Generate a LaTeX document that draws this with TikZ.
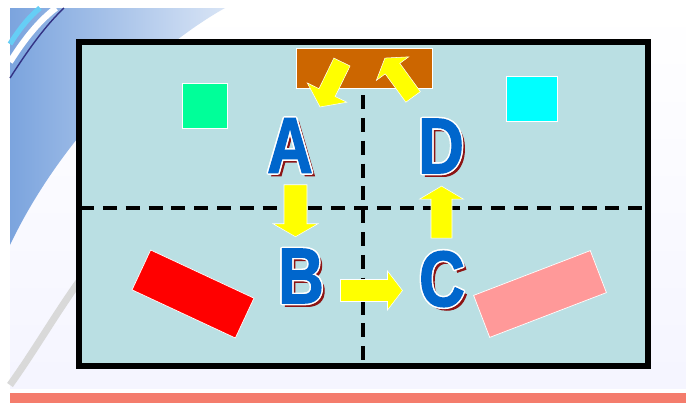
\documentclass[tikz,border=0pt]{standalone}
\usepackage{fontspec}
\newfontfamily\blockfont[FakeStretch=0.8, BoldFeatures={FakeBold=1.5}]{Liberation Sans}
\definecolor{boardteal}{RGB}{186, 223, 227}
\definecolor{swooshblue}{RGB}{100, 148, 216}
\definecolor{lettblue}{RGB}{0, 102, 204}
\definecolor{lettshadow}{RGB}{140, 20, 20}
\definecolor{brown1}{RGB}{204, 102, 0}
\definecolor{green1}{RGB}{0, 255, 153}
\definecolor{cyan1}{RGB}{0, 255, 255}
\definecolor{pink1}{RGB}{255, 153, 153}
\definecolor{salmon1}{RGB}{244, 124, 108}
\definecolor{arrowyellow}{RGB}{255, 255, 0}
\usetikzlibrary{calc}

% letter with white rim and dark red shadow: name, position, letter
\newcommand{\blockletter}[3]{%
  \node[letter, text=lettshadow, xshift=1.8pt, yshift=-1.8pt] at (#2) {#3};
  \foreach \dx/\dy in {0.9/0, -0.9/0, 0/0.9, 0/-0.9, 0.65/0.65, -0.65/0.65, 0.65/-0.65, -0.65/-0.65}
    \node[letter, text=white, xshift=\dx pt, yshift=\dy pt] at (#2) {#3};
  \node[letter, text=lettblue] (#1) at (#2) {#3};
}

\begin{document}
\begin{tikzpicture}[x=0.02cm, y=-0.02cm,
    letter/.style={inner sep=0pt, font=\blockfont\bfseries\fontsize{45}{45}\selectfont},
    card/.style={draw=white, line width=0.4pt},
    divider/.style={line width=2.3pt, dash pattern=on 8pt off 5pt},
    pics/blockarrow/.style args={#1/#2/#3/#4}{code={%
      \filldraw[fill=arrowyellow, draw=white, line width=0.3pt]
        ({-#1/2},{-#2}) -- ({#1/2-#4},{-#2}) -- ({#1/2-#4},{-#3}) -- ({#1/2},0)
        -- ({#1/2-#4},{#3}) -- ({#1/2-#4},{#2}) -- ({-#1/2},{#2}) -- cycle;
    }}]
  \useasboundingbox (0,0) rectangle (686,403);

  % Slide background
  \fill[white] (0,0) rectangle (686,403);
  \shade[top color=white, bottom color=blue!4] (10,8) rectangle (686,388);
  \shade[left color=swooshblue!85, right color=swooshblue!25]
    (10,8) -- (225,8) .. controls (150,50) and (60,140) .. (10,245) -- cycle;
  \draw[cyan!60, line width=3pt] (10,44) .. controls (20,28) and (30,16) .. (40,8);
  \draw[white, line width=3.5pt] (10,62) .. controls (25,38) and (40,20) .. (56,8);
  \draw[blue!40!black!80, line width=0.8pt] (10,78) .. controls (28,50) and (45,26) .. (64,8);
  \draw[black!15, line width=4pt] (10,385) .. controls (35,350) and (55,315) .. (80,280);
  \fill[salmon1] (10,393) rectangle (686,403);

  % Board
  \filldraw[fill=boardteal, draw=black, line width=3.4pt] (79,42) rectangle (648,366);
  \draw[divider] (363,95) -- (363,362);
  \draw[divider] (80,208) -- (645,208);

  % Cards
  \node[card, fill=brown1, minimum width=2.72cm, minimum height=0.8cm, inner sep=0pt] (box) at (364,68) {};
  \node[card, fill=green1, minimum size=0.9cm, inner sep=0pt] (green) at (204.5,105.5) {};
  \node[card, fill=cyan1, minimum width=1.02cm, minimum height=0.9cm, inner sep=0pt] (cyanbox) at (531.5,98.5) {};
  \node[card, fill=red, minimum width=2.28cm, minimum height=0.88cm, inner sep=0pt, rotate=-25] (redbox) at (193,294) {};
  \node[card, fill=pink1, minimum width=2.5cm, minimum height=0.9cm, inner sep=0pt, rotate=21] (pinkbox) at (540,294) {};

  % Letters
  \blockletter{A}{290,145.5}{A}
  \blockletter{D}{441,146}{D}
  \blockletter{B}{301,276}{B}
  \blockletter{C}{442,279}{C}

  % Arrows
  \pic[rotate=-90] at ($(A.south)!0.5!(B.north)$) {blockarrow=52/11.5/22.5/13};
  \pic[rotate=90] at ($(C.north)!0.5!(D.south)$) {blockarrow=52/10.5/22/13};
  \pic at ($(B.east)!0.5!(C.west)+(0,13)$) {blockarrow=62/11/19.5/15};
  \pic[rotate=244] at ($(box)+(-33,16.5)$) {blockarrow=50/9/22/16};
  \pic[rotate=126] at ($(box)+(35,9.5)$) {blockarrow=48/9/20/13};
\end{tikzpicture}
\end{document}
